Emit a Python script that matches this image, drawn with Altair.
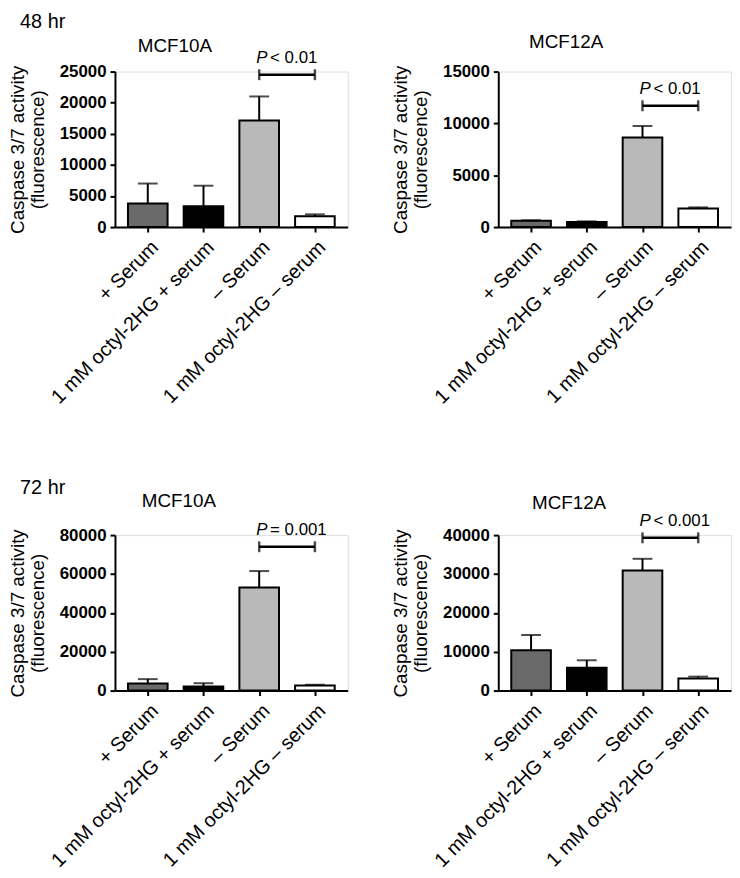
import json
import altair as alt
import pandas as pd

FONT = "Liberation Sans"

categories = ["+ Serum", "1 mM octyl-2HG + serum", "– Serum", "1 mM octyl-2HG – serum"]
positions = [0, 1, 2, 3]
bar_colors = ["#6a6a6a", "#000000", "#b9b9b9", "#ffffff"]

# 48 hr
mean_48_10a = [3800, 3350, 17150, 1750]
sem_48_10a = [3200, 3300, 3850, 300]
mean_48_12a = [620, 500, 8650, 1800]
sem_48_12a = [40, 50, 1100, 100]
# 72 hr
mean_72_10a = [3600, 2100, 53000, 2600]
sem_72_10a = [2300, 1700, 8500, 400]
mean_72_12a = [10400, 5900, 30900, 3100]
sem_72_12a = [3900, 1900, 3000, 500]

bracket_y = [24500, 11700, 74000, 39300]
p_texts = ["< 0.01", "< 0.01", "= 0.001", "< 0.001"]
y_max = [25000, 15000, 80000, 40000]
y_step = [5000, 5000, 20000, 10000]
panel_titles = ["MCF10A", "MCF12A", "MCF10A", "MCF12A"]
y_title = ["Caspase 3/7 activity", "(fluorescence)"]

# layout tweaks for the panel titles
title_dx = [-57, -49, -53, -46]
title_offset = [-7, 11, 10, -1]

W, H = 235, 157


def panel(i, means, sems):
    df = pd.DataFrame({
        "pos": positions,
        "cat": categories,
        "mean": means,
        "top": [m + s for m, s in zip(means, sems)],
        "color": bar_colors,
    })
    ymax, ystep = y_max[i], y_step[i]
    xaxis = alt.Axis(
        values=positions,
        labelExpr=json.dumps(categories, ensure_ascii=False) + "[datum.value]",
        labelAngle=315, title=None, grid=False, labelOverlap=False, labelLimit=0,
        labelFont=FONT, labelFontSize=20, labelColor="black", labelPadding=5,
        labelFlush=False, tickSize=5, tickWidth=2, tickColor="black",
        domainWidth=2, domainColor="black",
    )
    yaxis = alt.Axis(
        values=list(range(0, ymax + 1, ystep)), format="d", grid=False,
        title=y_title, titleFont=FONT, titleFontSize=19, titleFontWeight="normal",
        titleColor="black", titlePadding=12, titleLineHeight=20,
        labelFont=FONT, labelFontSize=17, labelFontWeight="bold", labelColor="black",
        labelPadding=4, labelFlush=False, tickSize=5, tickWidth=2, tickColor="black",
        domainWidth=2, domainColor="black",
    )
    xs = alt.Scale(domain=[-0.5, 3.5], nice=False, zero=False)
    ys = alt.Scale(domain=[0, ymax], nice=False)

    def X(f):
        return alt.X(f, type="quantitative", scale=xs, axis=xaxis)

    def Y(f):
        return alt.Y(f, type="quantitative", scale=ys, axis=yaxis)

    base = alt.Chart(df)
    err = base.mark_rule(color="black", strokeWidth=2).encode(
        x=X("pos"), y=Y("mean"), y2="top:Q")
    cap = base.mark_tick(orient="horizontal", size=20, thickness=2, color="black").encode(
        x=X("pos"), y=Y("top"))
    bars = base.mark_bar(size=40, stroke="black", strokeWidth=2).encode(
        x=X("pos"), y=Y("mean"), fill=alt.Color("color:N", scale=None))

    bdf = pd.DataFrame({"x1": [2], "x2": [3], "y": [bracket_y[i]], "p": [p_texts[i]]})
    edf = pd.DataFrame({"x": [2, 3], "y": [bracket_y[i]] * 2})
    brule = alt.Chart(bdf).mark_rule(color="black", strokeWidth=2.5).encode(
        x=X("x1"), x2="x2:Q", y=Y("y"))
    bends = alt.Chart(edf).mark_tick(orient="vertical", size=11, thickness=2.5, color="black").encode(
        x=X("x"), y=Y("y"))
    ptxt = alt.Chart(bdf).mark_text(
        text="P", font=FONT, fontSize=17, fontStyle="italic", align="left",
        baseline="bottom", dx=-3, dy=-8, color="black").encode(x=X("x1"), y=Y("y"))
    rtxt = alt.Chart(bdf).mark_text(
        font=FONT, fontSize=17, align="left", baseline="bottom", dx=11, dy=-8,
        color="black").encode(x=X("x1"), y=Y("y"), text="p:N")

    return alt.layer(err, bars, cap, brule, bends, ptxt, rtxt).properties(
        width=W, height=H,
        title=alt.TitleParams(panel_titles[i], font=FONT, fontSize=19,
                              fontWeight="normal", color="black", anchor="middle",
                              dx=title_dx[i], offset=title_offset[i]),
    )


p1 = panel(0, mean_48_10a, sem_48_10a)
p2 = panel(1, mean_48_12a, sem_48_12a)
p3 = panel(2, mean_72_10a, sem_72_10a)
p4 = panel(3, mean_72_12a, sem_72_12a)

row1 = alt.hconcat(p1, p2, spacing=152, bounds="flush", title=alt.TitleParams(
    "48 hr", anchor="start", font=FONT, fontSize=20, fontWeight="normal",
    color="black", dx=12, offset=0))
row2 = alt.hconcat(p3, p4, spacing=152, bounds="flush", title=alt.TitleParams(
    "72 hr", anchor="start", font=FONT, fontSize=20, fontWeight="normal",
    color="black", dx=12, offset=-6))

chart = alt.vconcat(row1, row2, spacing=468, bounds="flush").properties(
    padding=0).configure_view(stroke=None).configure(background="white")

chart.save("out.html", embed_options={"renderer": "svg", "actions": False})
